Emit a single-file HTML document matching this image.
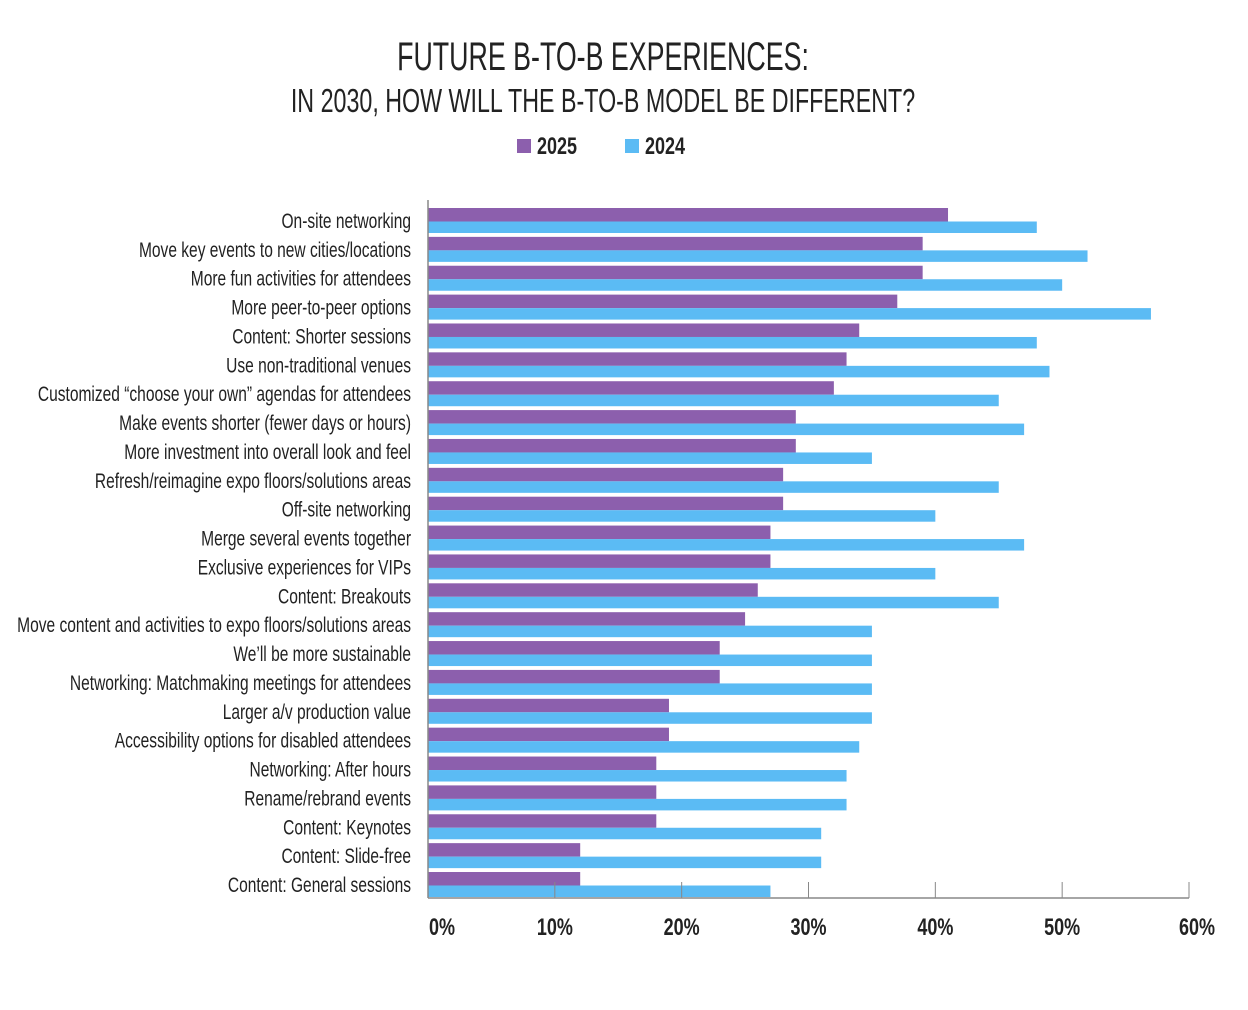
<!DOCTYPE html>
<html><head><meta charset="utf-8"><style>
html,body{margin:0;padding:0;background:#fff;}
svg{display:block;font-family:"Liberation Sans Narrow","Liberation Sans",sans-serif;}
</style></head><body>
<svg id="chart" width="1248" height="1010" viewBox="0 0 1248 1010">
<g transform="translate(603,70) scale(0.67,1)"><text x="0" y="0" text-anchor="middle" font-size="40" fill="#222">FUTURE B-TO-B EXPERIENCES:</text></g>
<g transform="translate(603,112) scale(0.705,1)"><text x="0" y="0" text-anchor="middle" font-size="33" fill="#222">IN 2030, HOW WILL THE B-TO-B MODEL BE DIFFERENT?</text></g>
<g>
<rect x="517" y="139" width="14" height="14" fill="#8c5fad"/>
<g transform="translate(537,154) scale(0.75,1)"><text font-size="24" font-weight="bold" fill="#222">2025</text></g>
<rect x="625" y="139" width="14" height="14" fill="#5bbbf4"/>
<g transform="translate(645,154) scale(0.75,1)"><text font-size="24" font-weight="bold" fill="#222">2024</text></g>
</g>
<g id="plot"></g>
</svg>
<script>
const categories=["On-site networking","Move key events to new cities/locations","More fun activities for attendees","More peer-to-peer options","Content: Shorter sessions","Use non-traditional venues","Customized \u201cchoose your own\u201d agendas for attendees","Make events shorter (fewer days or hours)","More investment into overall look and feel","Refresh/reimagine expo floors/solutions areas","Off-site networking","Merge several events together","Exclusive experiences for VIPs","Content: Breakouts","Move content and activities to expo floors/solutions areas","We\u2019ll be more sustainable","Networking: Matchmaking meetings for attendees","Larger a/v production value","Accessibility options for disabled attendees","Networking: After hours","Rename/rebrand events","Content: Keynotes","Content: Slide-free","Content: General sessions"];
const values2025=[41,39,39,37,34,33,32,29,29,28,28,27,27,26,25,23,23,19,19,18,18,18,12,12];
const values2024=[48,52,50,57,48,49,45,47,35,45,40,47,40,45,35,35,35,35,34,33,33,31,31,27];
const tickValues=[0,10,20,30,40,50,60];
const tickLabels=["0%","10%","20%","30%","40%","50%","60%"];
const NS="http://www.w3.org/2000/svg";
const x0=428,x1=1189,maxV=60,top0=208,step=28.87,axisY=898;
const xs=v=>x0+(v/maxV)*(x1-x0);
const ys=i=>top0+i*step;
const g=document.getElementById('plot');
function mk(t,a){const e=document.createElementNS(NS,t);for(const k in a)e.setAttribute(k,a[k]);g.appendChild(e);return e;}
categories.forEach((c,i)=>{
  const y=ys(i);
  const p=mk('rect',{x:x0,y:y,width:xs(values2025[i])-x0,height:13.5,fill:'#8c5fad'});
  
  
  const b=mk('rect',{x:x0,y:y+13.5,width:xs(values2024[i])-x0,height:11.5,fill:'#5bbbf4'});
  
  
  const gg=mk('g',{transform:'translate(411,'+(y+20)+') scale(0.74,1)'});
  const t=document.createElementNS(NS,'text');
  t.setAttribute('text-anchor','end');t.setAttribute('font-size','21');t.setAttribute('fill','#222');
  t.textContent=c;
  
  
  gg.appendChild(t);
});
const ax=mk('line',{x1:x0,y1:200,x2:x0,y2:axisY,stroke:'#888','stroke-width':1.5});


const bx=mk('line',{x1:x0,y1:axisY,x2:x1,y2:axisY,stroke:'#888','stroke-width':1.5});


tickValues.forEach((v,i)=>{
  const x=xs(v);
  const tk=mk('line',{x1:x,y1:882,x2:x,y2:axisY,stroke:'#888','stroke-width':1});
  
  
  let lx=x;
  if(i===0) lx=x+14;
  if(i===tickValues.length-1) lx=x+8;
  const gg=mk('g',{transform:'translate('+lx+',935) scale(0.75,1)'});
  const t=document.createElementNS(NS,'text');
  t.setAttribute('text-anchor','middle');t.setAttribute('font-size','24');t.setAttribute('font-weight','bold');t.setAttribute('fill','#222');
  t.textContent=tickLabels[i];
  
  
  gg.appendChild(t);
});
</script>
</body></html>
